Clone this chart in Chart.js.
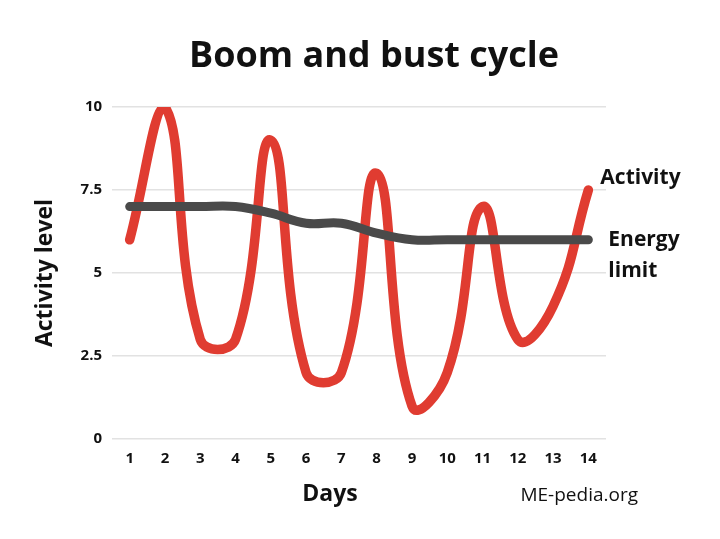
<!DOCTYPE html>
<html>
<head>
<meta charset="utf-8">
<script src="https://cdn.jsdelivr.net/npm/chart.js@4"></script>
<style>
  html, body { margin: 0; padding: 0; background: #fff; }
  #wrap { width: 720px; height: 539px; position: relative; }
</style>
</head>
<body>
<div id="wrap"><canvas id="cycleChart"></canvas></div>
<script>
const days = ['1', '2', '3', '4', '5', '6', '7', '8', '9', '10', '11', '12', '13', '14'];
const activity = [6, 10, 3, 3, 9, 2, 2, 8, 1, 2, 7, 3, 4, 7.5];
const energyLimit = [7, 7, 7, 7, 6.8, 6.5, 6.5, 6.2, 6, 6, 6, 6, 6, 6];
const yTicks = [0, 2.5, 5, 7.5, 10];

const FONT = "'Open Sans', 'Noto Sans', sans-serif";

// Title, x axis name, series labels at the right end of each line, source note
const extraText = {
    id: 'extraText',
    afterDatasetsDraw(chart) {
        const ctx = chart.ctx;
        const x = chart.scales.x;
        const y = chart.scales.y;
        const lastX = x.getPixelForValue(days.length - 1);
        ctx.save();
        ctx.fillStyle = '#111';
        ctx.textBaseline = 'middle';

        ctx.font = 'bold 36px ' + FONT;
        ctx.textAlign = 'center';
        ctx.fillText('Boom and bust cycle', 374, 57);

        ctx.font = 'bold 23px ' + FONT;
        ctx.fillText('Days', 330, 494);

        ctx.font = 'bold 21px ' + FONT;
        ctx.textAlign = 'left';
        ctx.fillText('Activity', lastX + 12, y.getPixelForValue(activity[activity.length - 1]) - 12);
        const ey = y.getPixelForValue(energyLimit[energyLimit.length - 1]);
        ctx.fillText('Energy', lastX + 20, ey);
        ctx.fillText('limit', lastX + 20, ey + 31);

        ctx.font = '19px ' + FONT;
        ctx.textAlign = 'right';
        ctx.fillText('ME-pedia.org', 638, 496);
        ctx.restore();
    }
};

new Chart(document.getElementById('cycleChart'), {
    type: 'line',
    data: {
        labels: days,
        datasets: [{
            label: 'Energy limit',
            data: energyLimit,
            borderColor: '#4a4a4a',
            borderWidth: 9,
            borderCapStyle: 'round',
            tension: 0.4,
            pointRadius: 0,
            fill: false,
            order: 0
        }, {
            label: 'Activity',
            data: activity,
            borderColor: '#e03c31',
            borderWidth: 9.5,
            borderCapStyle: 'round',
            tension: 0.45,
            pointRadius: 0,
            fill: false,
            order: 1
        }]
    },
    options: {
        responsive: true,
        maintainAspectRatio: false,
        animation: false,
        layout: {
            padding: { left: 28, right: 114, top: 107, bottom: 68 }
        },
        plugins: {
            legend: { display: false },
            tooltip: { enabled: false },
            title: { display: false }
        },
        scales: {
            x: {
                offset: true,
                grid: { display: false },
                border: { display: false },
                ticks: {
                    color: '#111',
                    font: { family: FONT, size: 15, weight: 'bold' },
                    padding: 3
                },
                title: { display: false }
            },
            y: {
                min: 0,
                max: 10,
                afterBuildTicks(axis) {
                    axis.ticks = yTicks.map(v => ({ value: v }));
                },
                grid: { color: '#e2e2e2', lineWidth: 1.5, drawTicks: false },
                border: { display: false },
                ticks: {
                    color: '#111',
                    font: { family: FONT, size: 15, weight: 'bold' },
                    padding: 10
                },
                title: {
                    display: true,
                    text: 'Activity level',
                    color: '#111',
                    font: { family: FONT, size: 23, weight: 'bold' },
                    padding: { bottom: 11 }
                }
            }
        }
    },
    plugins: [extraText]
});
</script>
</body>
</html>
